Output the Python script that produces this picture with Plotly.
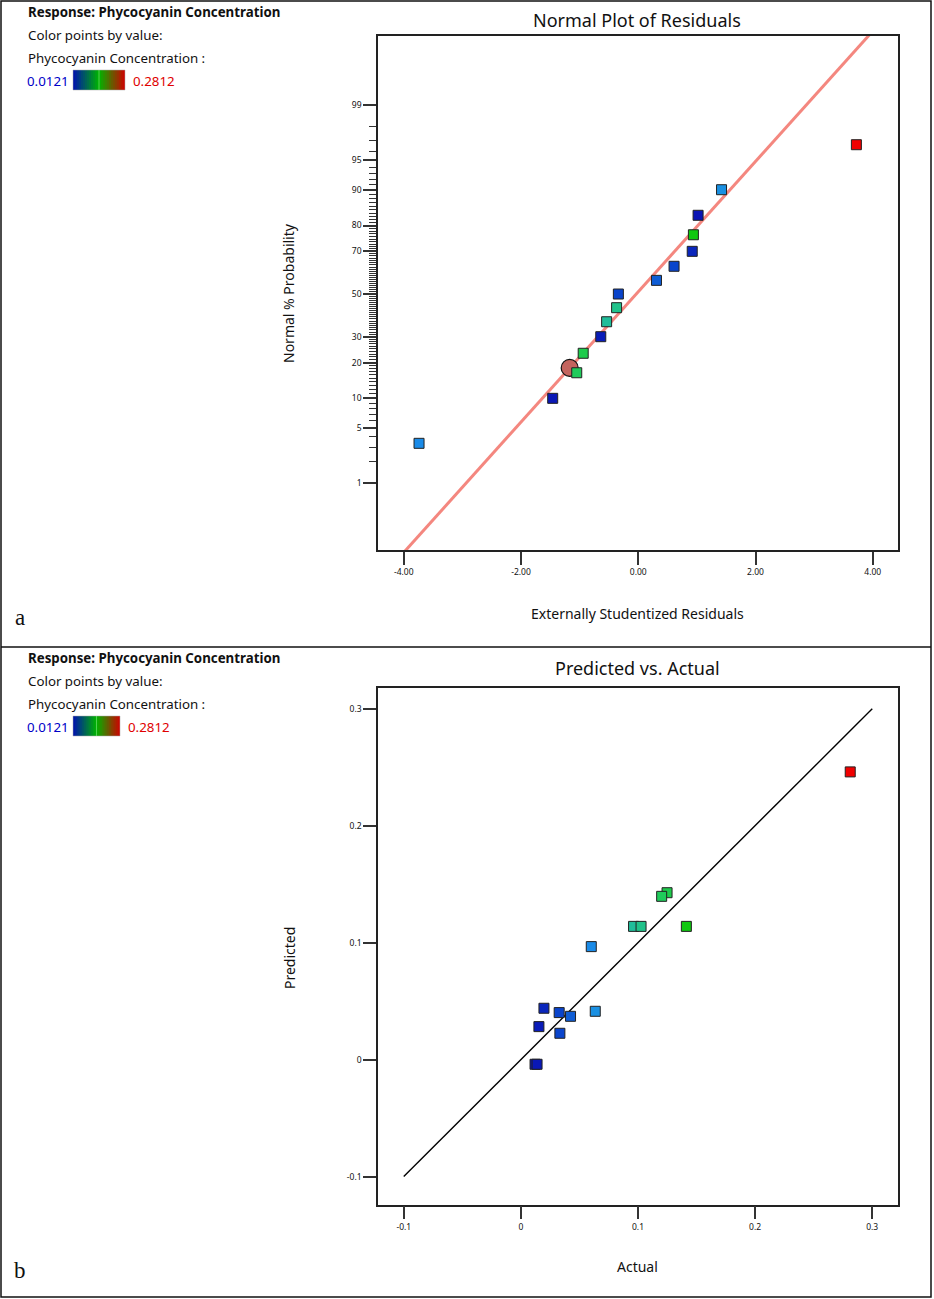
import plotly.graph_objects as go
from statistics import NormalDist

# ---------------- data ----------------
# Panel a: Normal plot of residuals
resid_x = [-3.74, -1.46, -1.05, -0.94, -0.64, -0.54, -0.37, -0.34, 0.31, 0.61, 0.92, 0.94, 1.02, 1.42, 3.72]
resid_pct = [3.33, 10.0, 16.67, 23.33, 30.0, 36.67, 43.33, 50.0, 56.67, 63.33, 70.0, 76.67, 83.33, 90.0, 96.67]
resid_val = [0.0601, 0.0138, 0.1202, 0.1248, 0.0154, 0.0962, 0.1026, 0.0327, 0.0424, 0.0333, 0.0197, 0.1413, 0.0121, 0.0635, 0.2812]
sel_x = [-1.17]
sel_pct = [18.2]
fit_x = [-4.68, 4.61]
fit_pct = [0.01, 99.99]
prob_major = [1, 5, 10, 20, 30, 50, 70, 80, 90, 95, 99]
prob_minor = [p for p in range(2, 99) if p not in prob_major]
x_ticks_a = [-4, -2, 0, 2, 4]
x_ticktext_a = ["-4.00", "-2.00", "0.00", "2.00", "4.00"]

# Panel b: Predicted vs Actual
actual = [0.2812, 0.1248, 0.1202, 0.0962, 0.1026, 0.1413, 0.0601, 0.0635, 0.0197, 0.0327, 0.0424, 0.0154, 0.0333, 0.0121, 0.0138]
predicted = [0.246, 0.1427, 0.1396, 0.1139, 0.1139, 0.1139, 0.0966, 0.0413, 0.0439, 0.0402, 0.0370, 0.0282, 0.0225, -0.0040, -0.0040]
diag = [-0.1, 0.3]
ticks_b = [-0.1, 0, 0.1, 0.2, 0.3]
ticktext_b = ["-0.1", "0", "0.1", "0.2", "0.3"]

vmin, vmax = 0.0121, 0.2812

# ---------------- helpers ----------------
W, H = 934, 1299
nd = NormalDist()
def z(p):
    return nd.inv_cdf(p / 100.0)
def px(x):
    return x / W
def py(y):
    return 1 - y / H

FONT = "Noto Sans"
cscale = [[0, '#0a14b4'], [0.08, '#0a46cc'], [0.18, '#1a8ce8'], [0.32, '#20c096'],
          [0.41, '#20cc55'], [0.48, '#10c810'], [1, '#f00000']]

fig = go.Figure()

# Panel a traces
fig.add_trace(go.Scatter(x=fit_x, y=[z(p) for p in fit_pct], mode='lines',
                         line=dict(color='#f4877f', width=3), xaxis='x', yaxis='y',
                         hoverinfo='skip', showlegend=False))
fig.add_trace(go.Scatter(x=sel_x, y=[z(p) for p in sel_pct], mode='markers',
                         marker=dict(symbol='circle', size=17, color='#c4645e',
                                     line=dict(color='#111', width=1.2)),
                         xaxis='x', yaxis='y', showlegend=False))
fig.add_trace(go.Scatter(x=resid_x, y=[z(p) for p in resid_pct], mode='markers',
                         marker=dict(symbol='square', size=10, color=resid_val,
                                     colorscale=cscale, cmin=vmin, cmax=vmax, showscale=False,
                                     line=dict(color='#222', width=1)),
                         xaxis='x', yaxis='y', showlegend=False))

# Panel b traces
fig.add_trace(go.Scatter(x=diag, y=diag, mode='lines', line=dict(color='black', width=1.4),
                         xaxis='x2', yaxis='y2', hoverinfo='skip', showlegend=False))
fig.add_trace(go.Scatter(x=actual, y=predicted, mode='markers',
                         marker=dict(symbol='square', size=10, color=actual,
                                     colorscale=cscale, cmin=vmin, cmax=vmax, showscale=False,
                                     line=dict(color='#222', width=1)),
                         xaxis='x2', yaxis='y2', showlegend=False))

axis_common = dict(showline=True, mirror=True, linecolor='#222', linewidth=1.5,
                   showgrid=False, zeroline=False, ticks='outside', ticklen=13,
                   tickwidth=1.5, tickcolor='#333', tickfont=dict(family=FONT, size=8.5, color='#111'))

fig.update_layout(
    width=W, height=H, margin=dict(l=0, r=0, t=0, b=0),
    paper_bgcolor='white', plot_bgcolor='white',
    font=dict(family=FONT, color='#111'),
    xaxis=dict(domain=[px(378), px(898)], range=[-4.44, 4.43], anchor='y',
               tickmode='array', tickvals=x_ticks_a, ticktext=x_ticktext_a, **axis_common),
    yaxis=dict(domain=[py(550), py(36)], range=[-3.145, 3.17], anchor='x',
               tickmode='array', tickvals=[z(p) for p in prob_major],
               ticktext=[str(p) for p in prob_major],
               minor=dict(tickmode='array', tickvals=[z(p) for p in prob_minor],
                          ticklen=7, tickwidth=1, tickcolor='#333', ticks='outside'),
               **axis_common),
    xaxis2=dict(domain=[px(378), px(898)], range=[-0.122, 0.322], anchor='y2',
                tickmode='array', tickvals=ticks_b, ticktext=ticktext_b, **axis_common),
    yaxis2=dict(domain=[py(1204.6), py(687.7)], range=[-0.124, 0.318], anchor='x2',
                tickmode='array', tickvals=ticks_b, ticktext=ticktext_b, **axis_common),
)

ann = []
def text(x, y, s, size, color='#111', xanchor='left', bold=False, family=FONT, angle=0):
    ann.append(dict(x=px(x), y=py(y), xref='paper', yref='paper', text=(f"<b>{s}</b>" if bold else s),
                    showarrow=False, xanchor=xanchor, yanchor='middle', textangle=angle,
                    font=dict(family=family, size=size, color=color)))

shapes = []
# outer border and divider
shapes.append(dict(type='rect', xref='paper', yref='paper', x0=px(1), x1=px(931), y0=py(1297), y1=py(1),
                   line=dict(color='#111', width=1.5)))
shapes.append(dict(type='line', xref='paper', yref='paper', x0=px(1), x1=px(931), y0=py(647), y1=py(647),
                   line=dict(color='#111', width=1.5)))

def hexrgb(h):
    h = h.lstrip('#')
    return tuple(int(h[i:i + 2], 16) for i in (0, 2, 4))

grad_stops = [(0.0, '#0010b0'), (0.5, '#00b400'), (1.0, '#d00000')]
def grad_color(t):
    for (t0, c0), (t1, c1) in zip(grad_stops[:-1], grad_stops[1:]):
        if t0 <= t <= t1:
            f = (t - t0) / (t1 - t0)
            a, b = hexrgb(c0), hexrgb(c1)
            return 'rgb(%d,%d,%d)' % tuple(round(a[i] + (b[i] - a[i]) * f) for i in range(3))
    return grad_stops[-1][1]

def legend_block(y0, gx0, gx1, redx):
    text(26, y0, "Response: Phycocyanin Concentration", 13.3, bold=True)
    text(26, y0 + 23, "Color points by value:", 13.3)
    text(26, y0 + 46, "Phycocyanin Concentration :", 13.3)
    text(25, y0 + 69, f"{vmin:.4f}", 13.3, color='#0000c8')
    text(redx, y0 + 69, f"{vmax:.4f}", 13.3, color='#e00000')
    n = 26
    gy0, gy1 = y0 + 58, y0 + 78
    for i in range(n):
        xa = gx0 + (gx1 - gx0) * i / n
        xb = gx0 + (gx1 - gx0) * (i + 1) / n
        shapes.append(dict(type='rect', xref='paper', yref='paper', x0=px(xa), x1=px(min(xb + 1.5, gx1)),
                           y0=py(gy1), y1=py(gy0), line=dict(width=0), layer='above',
                           fillcolor=grad_color((i + 0.5) / n)))
    xm = (gx0 + gx1) / 2
    shapes.append(dict(type='line', xref='paper', yref='paper', x0=px(xm), x1=px(xm), y0=py(gy1), y1=py(gy0),
                       line=dict(color='#50d050', width=1)))
    shapes.append(dict(type='rect', xref='paper', yref='paper', x0=px(gx0), x1=px(gx1), y0=py(gy1), y1=py(gy0),
                       line=dict(color='#aaa', width=0.5)))

legend_block(12, 73, 125, 131)
legend_block(658, 73, 120, 126)

# titles
text(637, 20, "Normal Plot of Residuals", 18, xanchor='center')
text(637, 613, "Externally Studentized Residuals", 14, xanchor='center')
text(289, 293, "Normal % Probability", 14, xanchor='center', angle=-90)
text(637, 668, "Predicted vs. Actual", 18, xanchor='center')
text(637, 1266, "Actual", 14, xanchor='center')
text(289, 958, "Predicted", 14, xanchor='center', angle=-90)
text(20, 617, "a", 23, xanchor='center', family='Liberation Serif')
text(20, 1270, "b", 23, xanchor='center', family='Liberation Serif')

fig.update_layout(annotations=ann, shapes=shapes)
fig.write_html("out.html", config={'displayModeBar': False},
               post_script="document.body.style.margin='0';document.body.style.overflow='hidden';")
